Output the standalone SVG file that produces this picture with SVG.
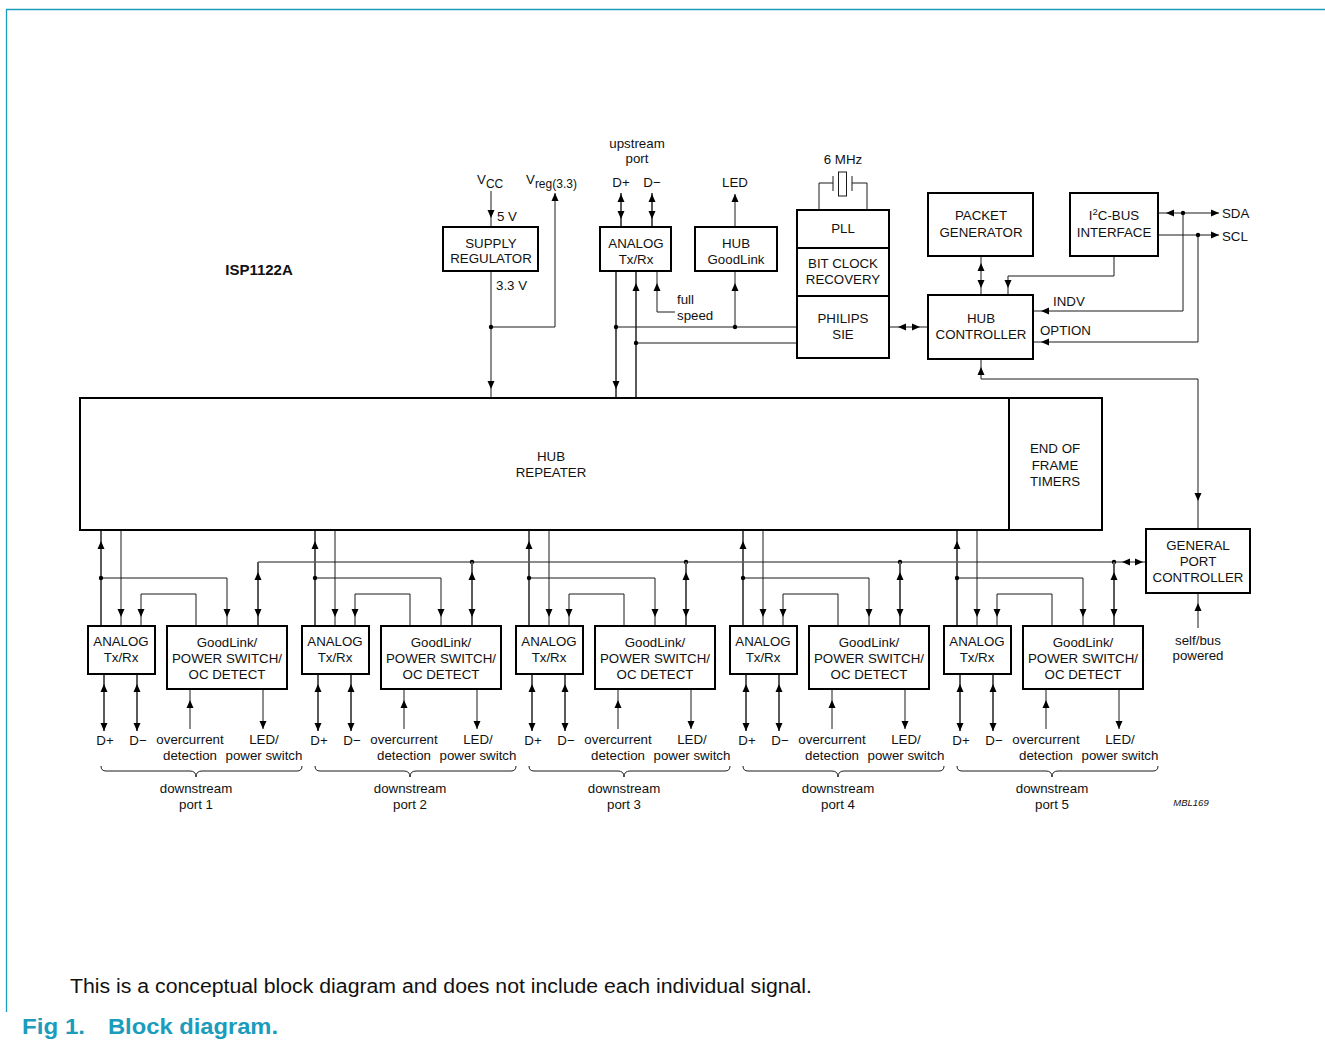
<svg xmlns="http://www.w3.org/2000/svg" xmlns:xlink="http://www.w3.org/1999/xlink" width="1325" height="1044" viewBox="0 0 1325 1044">
<style>
text{font-family:"Liberation Sans",Arial,sans-serif;font-size:13.3px;fill:#111;text-anchor:middle}
.st{text-anchor:start}
.box{fill:#fff;stroke:#000;stroke-width:2}
.ln{fill:none;stroke:#1a1a1a;stroke-width:1}
.bus{fill:none;stroke:#5a5a5a;stroke-width:2}
.dot{fill:#000}
.ah{fill:#000}
.page{fill:none;stroke:#1b9cbc;stroke-width:1.3}
</style>
<defs>
<path id="aD" class="ah" d="M-3.5,-8L3.5,-8L0,0Z"/>
<path id="aU" class="ah" d="M-3.5,8L3.5,8L0,0Z"/>
<path id="aL" class="ah" d="M8,-3.5L8,3.5L0,0Z"/>
<path id="aR" class="ah" d="M-8,-3.5L-8,3.5L0,0Z"/>
<circle id="dt" class="dot" r="2.2"/>
<g id="portConn">
<path class="bus" d="M101,530V626M258,562V626M104,674V731M137,674V731"/>
<path class="ln" d="M121,530V626M141,626V594H196V626M101,578H227V626M190,729V689M263,689V729"/>
<use href="#aU" x="101" y="541"/>
<use href="#aD" x="121" y="617"/><use href="#aD" x="141" y="617"/><use href="#aD" x="227" y="617"/><use href="#aD" x="258" y="617"/>
<use href="#aU" x="258" y="572"/>
<use href="#aU" x="104" y="684"/><use href="#aU" x="137" y="684"/><use href="#aD" x="104" y="731"/><use href="#aD" x="137" y="731"/>
<use href="#aU" x="190" y="700"/><use href="#aD" x="263" y="729"/>
<use href="#dt" x="101" y="578"/>
<path class="ln" d="M101,766Q101,771 106,771H190Q196,771 196,777Q196,771 202,771H297Q302,771 302,766"/>
</g>
<g id="portNodes">
<rect class="box" x="88" y="626" width="67" height="48"/>
<text x="121" y="646">ANALOG</text><text x="121" y="662">Tx/Rx</text>
<rect class="box" x="167" y="626" width="120" height="63"/>
<text x="227" y="647">GoodLink/</text><text x="227" y="663">POWER SWITCH/</text><text x="227" y="679">OC DETECT</text>
<text x="105" y="745">D+</text><text x="138" y="745">D−</text>
<text x="190" y="744">overcurrent</text><text x="190" y="760">detection</text>
<text x="264" y="744">LED/</text><text x="264" y="760">power switch</text>
<text x="196" y="793">downstream</text>
</g>
</defs>

<g id="page">
<path class="page" d="M6,9.5H1325M6.5,9V1012"/>
</g>

<g id="connectors">
<!-- supply -->
<path class="ln" d="M491,191V227M491,271V398M491,327H555V193"/>
<use href="#aD" x="491" y="218"/><use href="#aD" x="491" y="389"/><use href="#aU" x="555" y="193"/>
<use href="#dt" x="491" y="327"/>
<!-- upstream analog -->
<path class="bus" d="M621,193V227M652,193V227M616,271V398M636,271V398"/>
<use href="#aU" x="621" y="194"/><use href="#aD" x="621" y="219"/>
<use href="#aU" x="652" y="194"/><use href="#aD" x="652" y="219"/>
<use href="#aD" x="616" y="389"/><use href="#aU" x="636" y="283"/>
<path class="ln" d="M616,327H797M636,343H797M657,271V312H675M735,194V227M735,271V327"/>
<use href="#aU" x="657" y="283"/><use href="#aU" x="735" y="194"/><use href="#aU" x="735" y="283"/>
<use href="#dt" x="616" y="327"/><use href="#dt" x="636" y="343"/><use href="#dt" x="735" y="327"/>
<!-- crystal -->
<path class="ln" d="M819,210V183H833M867,210V183H852M833,176V191M852,176V191"/>
<rect class="ln" x="838.5" y="172" width="8" height="24"/>
<!-- SIE / hub controller -->
<path class="ln" d="M889,327H928"/>
<use href="#aL" x="898" y="327"/><use href="#aR" x="920" y="327"/>
<path class="ln" d="M981,256V295"/>
<use href="#aU" x="981" y="263"/><use href="#aD" x="981" y="288"/>
<path class="ln" d="M1114,256V276H1008V295"/>
<use href="#aD" x="1008" y="288"/>
<path class="ln" d="M1158,213H1219M1158,235H1219M1183,213V311H1033M1198,235V342H1033"/>
<use href="#aL" x="1166" y="213"/><use href="#aR" x="1219" y="213"/><use href="#aR" x="1219" y="235"/>
<use href="#aL" x="1041" y="311"/><use href="#aL" x="1041" y="342"/>
<use href="#dt" x="1183" y="213"/><use href="#dt" x="1198" y="235"/>
<path class="ln" d="M981,359V379H1198V529M1198,628V593"/>
<use href="#aU" x="981" y="367"/><use href="#aD" x="1198" y="501"/><use href="#aU" x="1198" y="603"/>
<!-- downstream bus -->
<path class="ln" d="M258,562H1146"/>
<use href="#aL" x="1122" y="562"/><use href="#aR" x="1143" y="562"/>
<use href="#dt" x="472" y="562"/><use href="#dt" x="686" y="562"/><use href="#dt" x="900" y="562"/><use href="#dt" x="1114" y="562"/>
<use href="#portConn"/>
<use href="#portConn" x="214"/>
<use href="#portConn" x="428"/>
<use href="#portConn" x="642"/>
<use href="#portConn" x="856"/>
</g>

<g id="labels">
<text class="st" x="477" y="184">V<tspan font-size="12" dy="4">CC</tspan></text>
<text class="st" x="526" y="184">V<tspan font-size="12" dy="4">reg(3.3)</tspan></text>
<text class="st" x="497" y="221">5 V</text>
<text class="st" x="496" y="290">3.3 V</text>
<text x="637" y="148">upstream</text><text x="637" y="163">port</text>
<text x="621" y="187">D+</text><text x="652" y="187">D−</text>
<text x="735" y="187">LED</text>
<text class="st" x="677" y="304">full</text><text class="st" x="677" y="320">speed</text>
<text x="843" y="164">6 MHz</text>
<text class="st" x="1222" y="218">SDA</text><text class="st" x="1222" y="241">SCL</text>
<text class="st" x="1053" y="306">INDV</text><text class="st" x="1040" y="335">OPTION</text>
<text x="1198" y="645">self/bus</text><text x="1198" y="660">powered</text>
<text x="1191" y="806" style="font-size:9.5px;font-style:italic">MBL169</text>
<text x="259" y="275" style="font-weight:bold;font-size:15px">ISP1122A</text>
<text x="196" y="809">port 1</text><text x="410" y="809">port 2</text><text x="624" y="809">port 3</text><text x="838" y="809">port 4</text><text x="1052" y="809">port 5</text>
</g>

<g id="supply-regulator"><rect class="box" x="443" y="227" width="95" height="44"/><text x="491" y="248">SUPPLY</text><text x="491" y="263">REGULATOR</text></g>
<g id="analog-upstream"><rect class="box" x="600" y="227" width="71" height="44"/><text x="636" y="248">ANALOG</text><text x="636" y="264">Tx/Rx</text></g>
<g id="hub-goodlink"><rect class="box" x="695" y="227" width="82" height="44"/><text x="736" y="248">HUB</text><text x="736" y="264">GoodLink</text></g>
<g id="pll"><rect class="box" x="797" y="210" width="92" height="38"/><text x="843" y="233">PLL</text></g>
<g id="bit-clock"><rect class="box" x="797" y="248" width="92" height="48"/><text x="843" y="268">BIT CLOCK</text><text x="843" y="284">RECOVERY</text></g>
<g id="philips-sie"><rect class="box" x="797" y="296" width="92" height="62"/><text x="843" y="323">PHILIPS</text><text x="843" y="339">SIE</text></g>
<g id="packet-generator"><rect class="box" x="928" y="193" width="105" height="63"/><text x="981" y="220">PACKET</text><text x="981" y="237">GENERATOR</text></g>
<g id="i2c-interface"><rect class="box" x="1070" y="193" width="88" height="63"/><text x="1114" y="220">I<tspan font-size="9.5" dy="-5">2</tspan><tspan dy="5">C-BUS</tspan></text><text x="1114" y="237">INTERFACE</text></g>
<g id="hub-controller"><rect class="box" x="928" y="295" width="105" height="64"/><text x="981" y="323">HUB</text><text x="981" y="339">CONTROLLER</text></g>
<g id="hub-repeater"><rect class="box" x="80" y="398" width="929" height="132"/><text x="551" y="461">HUB</text><text x="551" y="477">REPEATER</text></g>
<g id="eof-timers"><rect class="box" x="1009" y="398" width="93" height="132"/><text x="1055" y="453">END OF</text><text x="1055" y="470">FRAME</text><text x="1055" y="486">TIMERS</text></g>
<g id="general-port-controller"><rect class="box" x="1146" y="529" width="104" height="64"/><text x="1198" y="550">GENERAL</text><text x="1198" y="566">PORT</text><text x="1198" y="582">CONTROLLER</text></g>
<g id="port1"><use href="#portNodes"/></g>
<g id="port2"><use href="#portNodes" x="214"/></g>
<g id="port3"><use href="#portNodes" x="428"/></g>
<g id="port4"><use href="#portNodes" x="642"/></g>
<g id="port5"><use href="#portNodes" x="856"/></g>

<g id="caption">
<text class="st" x="70" y="993" style="font-size:20px" textLength="742" lengthAdjust="spacingAndGlyphs">This is a conceptual block diagram and does not include each individual signal.</text>
<text class="st" x="22" y="1034" style="font-size:22px;font-weight:bold;fill:#1b9cbc" textLength="63" lengthAdjust="spacingAndGlyphs">Fig 1.</text>
<text class="st" x="108" y="1034" style="font-size:22px;font-weight:bold;fill:#1b9cbc" textLength="170" lengthAdjust="spacingAndGlyphs">Block diagram.</text>
</g>
</svg>
